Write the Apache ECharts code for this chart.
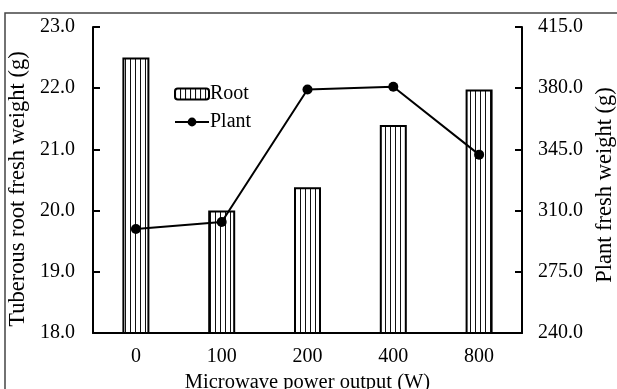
<!DOCTYPE html>
<html>
<head>
<meta charset="utf-8">
<script src="https://cdn.jsdelivr.net/npm/echarts@6/dist/echarts.min.js"></script>
<style>
  html, body { margin: 0; padding: 0; background: #fff; }
  #chart { width: 617px; height: 389px; }
</style>
</head>
<body>
<div id="chart"></div>
<script>
// values
var categories = ['0', '100', '200', '400', '800'];
var rootWeight = [22.5, 20.0, 20.38, 21.4, 21.98];
var plantWeight = [299.5, 303.5, 379.3, 380.8, 342.0];
var leftTicks = [18, 23, 1];
var rightTicks = [240, 415, 35];

var chartDom = document.getElementById('chart');
var myChart = echarts.init(chartDom);

// vertical stripes for the bars
var stripe = document.createElement('canvas');
stripe.width = 5;
stripe.height = 10;
var ctx = stripe.getContext('2d');
ctx.fillStyle = '#fff';
ctx.fillRect(0, 0, 5, 10);
ctx.fillStyle = '#111';
ctx.fillRect(0, 0, 1, 10);

var font = 'Liberation Serif';
var fs = 20;

var option = {
    animation: false,
    backgroundColor: '#fff',
    textStyle: { fontFamily: font },
    graphic: [{
        type: 'rect',
        shape: { x: 5, y: 13, width: 640, height: 420 },
        style: { fill: 'none', stroke: '#444', lineWidth: 1.5 },
        silent: true
    }],
    legend: {
        orient: 'vertical',
        left: 169,
        top: 79,
        itemWidth: 34,
        itemHeight: 11,
        itemGap: 8,
        textStyle: { fontFamily: font, fontSize: fs, color: '#000', padding: [0, 0, 0, -4] },
        data: ['Root', 'Plant']
    },
    grid: { left: 93, right: 95, top: 27, bottom: 56, outerBoundsMode: 'none' },
    xAxis: {
        type: 'category',
        data: categories,
        name: 'Microwave power output (W)',
        nameLocation: 'middle',
        nameGap: 36,
        nameTextStyle: { fontFamily: font, fontSize: 20.5, color: '#000' },
        axisLine: { lineStyle: { color: '#000', width: 2 } },
        axisTick: { show: false },
        axisLabel: { margin: 14, fontFamily: font, fontSize: fs, color: '#000' }
    },
    yAxis: [{
        type: 'value',
        min: leftTicks[0],
        max: leftTicks[1],
        interval: leftTicks[2],
        name: 'Tuberous root fresh weight (g)',
        nameLocation: 'middle',
        nameGap: 62,
        nameTextStyle: { fontFamily: font, fontSize: 22.5, color: '#000', padding: [0, 18, 0, 0] },
        axisLine: { show: true, lineStyle: { color: '#000', width: 2 } },
        axisTick: { show: true, inside: true, length: 7, lineStyle: { color: '#000', width: 2 } },
        axisLabel: { margin: 18, fontFamily: font, fontSize: fs, color: '#000',
            formatter: function (v) { return v.toFixed(1); } },
        splitLine: { show: false }
    }, {
        type: 'value',
        min: rightTicks[0],
        max: rightTicks[1],
        interval: rightTicks[2],
        position: 'right',
        name: 'Plant fresh weight (g)',
        nameLocation: 'middle',
        nameGap: 72,
        nameTextStyle: { fontFamily: font, fontSize: 22.5, color: '#000', padding: [0, 10, 0, 0] },
        axisLine: { show: true, lineStyle: { color: '#000', width: 2 } },
        axisTick: { show: true, inside: true, length: 7, lineStyle: { color: '#000', width: 2 } },
        axisLabel: { margin: 16, fontFamily: font, fontSize: fs, color: '#000',
            formatter: function (v) { return v.toFixed(1); } },
        splitLine: { show: false }
    }],
    series: [{
        name: 'Root',
        type: 'bar',
        yAxisIndex: 0,
        barWidth: 27,
        data: rootWeight,
        itemStyle: {
            color: { image: stripe, repeat: 'repeat' },
            borderColor: '#000',
            borderWidth: 2
        }
    }, {
        name: 'Plant',
        type: 'line',
        yAxisIndex: 1,
        data: plantWeight,
        symbol: 'circle',
        symbolSize: 10,
        lineStyle: { color: '#000', width: 2 },
        itemStyle: { color: '#000' }
    }]
};

option && myChart.setOption(option);
</script>
</body>
</html>
